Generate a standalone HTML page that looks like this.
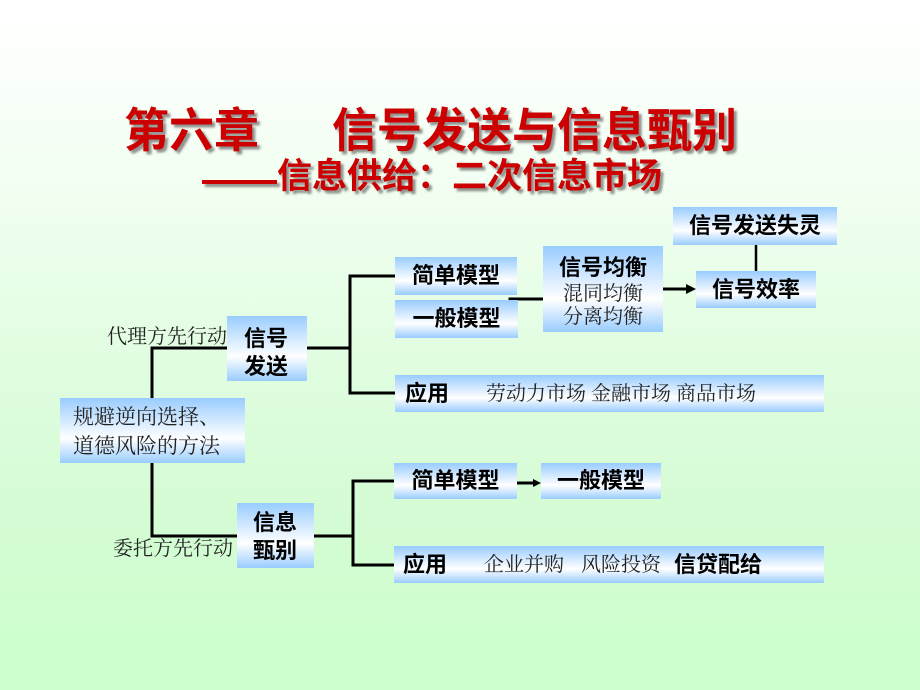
<!DOCTYPE html>
<html>
<head>
<meta charset="utf-8">
<style>
html,body{margin:0;padding:0;}
body{width:920px;height:690px;position:relative;overflow:hidden;
background:linear-gradient(to bottom,#ffffff 0%,#f3fff3 25%,#e2fde2 50%,#d4fcd4 75%,#ccffcc 100%);
font-family:"Liberation Sans","Noto Sans CJK SC",sans-serif;}
.t{position:absolute;white-space:nowrap;line-height:1;}
.title{color:#cc0000;font-weight:bold;font-size:45px;text-shadow:3px 3px 2px rgba(60,60,60,0.55);transform-origin:0 0;transform:scaleY(1.05);}
.sub{color:#cc0000;font-weight:bold;font-size:35px;text-shadow:3px 3px 2px rgba(60,60,60,0.55);}
.box{position:absolute;background:linear-gradient(to bottom,#99ccff 0%,#ffffff 62%,#99ccff 100%);}
.c{display:flex;align-items:center;justify-content:center;}
.b{font-weight:bold;font-size:22px;color:#000;line-height:1;white-space:nowrap;}
.l{font-family:"Liberation Serif","Noto Serif CJK SC",serif;font-size:20px;color:#222;line-height:1;white-space:nowrap;}
svg{position:absolute;left:0;top:0;}
</style>
</head>
<body>

<div class="t title" style="left:124px;top:107px;">第六章</div>
<div class="t title" style="left:332px;top:107px;">信号发送与信息甄别</div>
<div style="position:absolute;left:202px;top:180px;width:75px;height:4px;background:#cc0000;box-shadow:3px 3px 2px rgba(60,60,60,0.55);"></div>
<div class="t sub" style="left:277px;top:159px;">信息供给：二次信息市场</div>

<svg width="920" height="690" viewBox="0 0 920 690">
<g stroke="#000" stroke-width="3" fill="none" stroke-linecap="square">
<polyline points="227,348 152,348 152,398"/>
<polyline points="152,463 152,536 237,536"/>
<line x1="307" y1="348" x2="350" y2="348"/>
<polyline points="395,276 350,276 350,393 395,393"/>
<line x1="510" y1="299" x2="543" y2="299"/>
<line x1="663" y1="289" x2="688" y2="289"/>
<line x1="314" y1="536" x2="353" y2="536"/>
<polyline points="394,481 353,481 353,565 394,565"/>
<line x1="517" y1="483" x2="534" y2="483"/>
</g>
<line x1="756" y1="244" x2="756" y2="271" stroke="#000" stroke-width="2.5"/>
<polygon points="686,284 696,289 686,294" fill="#000"/>
<polygon points="533,479 541,483 533,487" fill="#000"/>
</svg>

<div class="box c" style="left:673px;top:207px;width:164px;height:38px;"><span class="b">信号发送失灵</span></div>
<div class="box c" style="left:395px;top:257px;width:122px;height:38px;"><span class="b">简单模型</span></div>
<div class="box c" style="left:395px;top:300px;width:123px;height:38px;"><span class="b">一般模型</span></div>
<div class="box" style="left:543px;top:246px;width:120px;height:86px;">
  <div class="b" style="position:absolute;left:0;width:120px;text-align:center;top:11px;">信号均衡</div>
  <div class="l" style="position:absolute;left:0;width:120px;text-align:center;top:38px;">混同均衡</div>
  <div class="l" style="position:absolute;left:0;width:120px;text-align:center;top:61px;">分离均衡</div>
</div>
<div class="box c" style="left:696px;top:271px;width:120px;height:37px;"><span class="b">信号效率</span></div>

<div class="t l" style="left:107px;top:327px;">代理方先行动</div>
<div class="box" style="left:227px;top:316px;width:80px;height:65px;">
  <div class="b" style="position:absolute;left:17px;top:12px;">信号</div>
  <div class="b" style="position:absolute;left:17px;top:40px;">发送</div>
</div>

<div class="box" style="left:60px;top:398px;width:185px;height:65px;">
  <div class="l" style="position:absolute;left:13px;top:9px;font-size:21px;">规避逆向选择、</div>
  <div class="l" style="position:absolute;left:13px;top:38px;font-size:21px;">道德风险的方法</div>
</div>

<div class="box" style="left:395px;top:375px;width:429px;height:37px;">
  <div class="b" style="position:absolute;left:10px;top:8px;">应用</div>
  <div class="l" style="position:absolute;left:91px;top:9px;">劳动力市场 金融市场 商品市场</div>
</div>

<div class="box c" style="left:394px;top:463px;width:123px;height:36px;"><span class="b">简单模型</span></div>
<div class="box c" style="left:541px;top:463px;width:120px;height:36px;"><span class="b">一般模型</span></div>

<div class="t l" style="left:113px;top:539px;">委托方先行动</div>
<div class="box" style="left:237px;top:503px;width:77px;height:65px;">
  <div class="b" style="position:absolute;left:16px;top:9px;">信息</div>
  <div class="b" style="position:absolute;left:16px;top:37px;">甄别</div>
</div>

<div class="box" style="left:394px;top:546px;width:430px;height:37px;">
  <div class="b" style="position:absolute;left:9px;top:8px;">应用</div>
  <div class="l" style="position:absolute;left:90px;top:9px;">企业并购</div>
  <div class="l" style="position:absolute;left:187px;top:9px;">风险投资</div>
  <div class="b" style="position:absolute;left:280px;top:8px;">信贷配给</div>
</div>

</body>
</html>
